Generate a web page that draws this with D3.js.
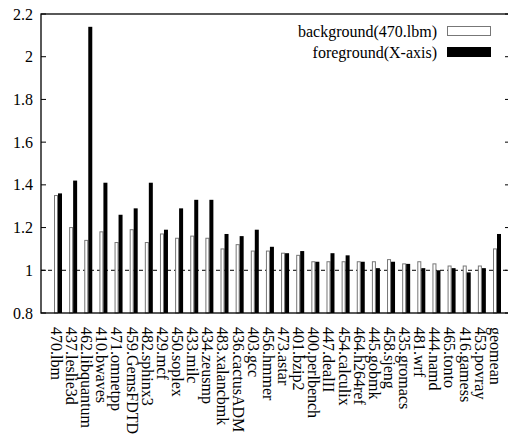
<!DOCTYPE html>
<html>
<head>
<meta charset="utf-8">
<title>Speedup</title>
<style>
  body { margin: 0; background: #fff; }
  text { font-family: 'Liberation Serif', 'DejaVu Serif', serif; fill: #000; }
</style>
<script src="https://d3js.org/d3.v7.min.js"></script>
</head>
<body>
<div id="container"></div>
<script>
// ******* Data *******
const benchmarks = ["470.lbm", "437.leslie3d", "462.libquantum", "410.bwaves", "471.omnetpp",
  "459.GemsFDTD", "482.sphinx3", "429.mcf", "450.soplex", "433.milc", "434.zeusmp",
  "483.xalancbmk", "436.cactusADM", "403.gcc", "456.hmmer", "473.astar", "401.bzip2",
  "400.perlbench", "447.dealII", "454.calculix", "464.h264ref", "445.gobmk", "458.sjeng",
  "435.gromacs", "481.wrf", "444.namd", "465.tonto", "416.gamess", "453.povray", "geomean"];

const background = [1.35, 1.20, 1.14, 1.18, 1.13, 1.19, 1.13, 1.17, 1.15, 1.16, 1.15,
  1.10, 1.12, 1.09, 1.09, 1.08, 1.07, 1.04, 1.04, 1.04, 1.04, 1.04, 1.05,
  1.03, 1.04, 1.03, 1.02, 1.02, 1.02, 1.10];

const foreground = [1.36, 1.42, 2.14, 1.41, 1.26, 1.29, 1.41, 1.19, 1.29, 1.33, 1.33,
  1.17, 1.16, 1.19, 1.11, 1.08, 1.09, 1.04, 1.08, 1.07, 1.04, 1.01, 1.04,
  1.03, 1.01, 1.00, 1.01, 0.99, 1.01, 1.17];

const yTicks = [0.8, 1, 1.2, 1.4, 1.6, 1.8, 2, 2.2];
const seriesNames = ["background(470.lbm)", "foreground(X-axis)"];

// ******* Layout *******
const width = 508, height = 438;
const plotLeft = 41, plotRight = 510, plotTop = 14, plotBottom = 313;
const barW = 4;

const svg = d3.select("#container").append("svg")
    .attr("width", width)
    .attr("height", height)
    .style("display", "block");

// ******* Scales *******
const x = d3.scalePoint()
    .domain(benchmarks)
    .range([58, 497]);

const y = d3.scaleLinear()
    .domain([0.8, 2.2])
    .range([plotBottom, plotTop]);

// reference line at 1.0
svg.append("line")
    .attr("x1", plotLeft).attr("x2", plotRight)
    .attr("y1", y(1)).attr("y2", y(1))
    .attr("stroke", "#000")
    .attr("stroke-width", 1)
    .attr("stroke-dasharray", "4,3");

// ******* Bars *******
svg.selectAll("rect.bg")
    .data(benchmarks)
    .enter().append("rect")
    .attr("class", "bg")
    .attr("x", d => x(d) - barW + 0.5)
    .attr("y", (d, i) => y(background[i]))
    .attr("width", barW - 1)
    .attr("height", (d, i) => plotBottom - y(background[i]))
    .attr("fill", "#fff")
    .attr("stroke", "#777")
    .attr("stroke-width", 1);

svg.selectAll("rect.fg")
    .data(benchmarks)
    .enter().append("rect")
    .attr("class", "fg")
    .attr("x", d => x(d))
    .attr("y", (d, i) => y(foreground[i]))
    .attr("width", barW)
    .attr("height", (d, i) => plotBottom - y(foreground[i]))
    .attr("fill", "#000");

// ******* Frame and axes *******
svg.append("rect")
    .attr("x", plotLeft).attr("y", plotTop)
    .attr("width", plotRight - plotLeft).attr("height", plotBottom - plotTop)
    .attr("fill", "none")
    .attr("stroke", "#000")
    .attr("stroke-width", 1.3);

// inward ticks on both sides
svg.selectAll("line.ytickL")
    .data(yTicks)
    .enter().append("line")
    .attr("x1", plotLeft).attr("x2", plotLeft + 5)
    .attr("y1", d => y(d)).attr("y2", d => y(d))
    .attr("stroke", "#000");

svg.selectAll("line.ytickR")
    .data(yTicks)
    .enter().append("line")
    .attr("x1", plotRight - 5).attr("x2", plotRight)
    .attr("y1", d => y(d)).attr("y2", d => y(d))
    .attr("stroke", "#000");

svg.selectAll("text.ylab")
    .data(yTicks)
    .enter().append("text")
    .attr("x", 33)
    .attr("y", d => y(d))
    .attr("dy", "0.35em")
    .attr("text-anchor", "end")
    .attr("font-size", 16)
    .text(d => d);

// rotated category labels
svg.selectAll("text.xlab")
    .data(benchmarks)
    .enter().append("text")
    .attr("transform", d => `translate(${x(d) - 1.5},${plotBottom + 14}) rotate(90)`)
    .attr("dy", "0.35em")
    .attr("text-anchor", "start")
    .attr("font-size", 16)
    .text(d => d);

// ******* Legend *******
const legend = svg.append("g");
seriesNames.forEach(function(name, i) {
  const ly = 31 + i * 21;
  legend.append("text")
      .attr("x", 437)
      .attr("y", ly)
      .attr("dy", "0.35em")
      .attr("text-anchor", "end")
      .attr("font-size", 16)
      .text(name);
  legend.append("rect")
      .attr("x", 447.5)
      .attr("y", ly - 4.5)
      .attr("width", 43)
      .attr("height", 9)
      .attr("fill", i === 0 ? "#fff" : "#000")
      .attr("stroke", i === 0 ? "#777" : "#000");
});
</script>
</body>
</html>
